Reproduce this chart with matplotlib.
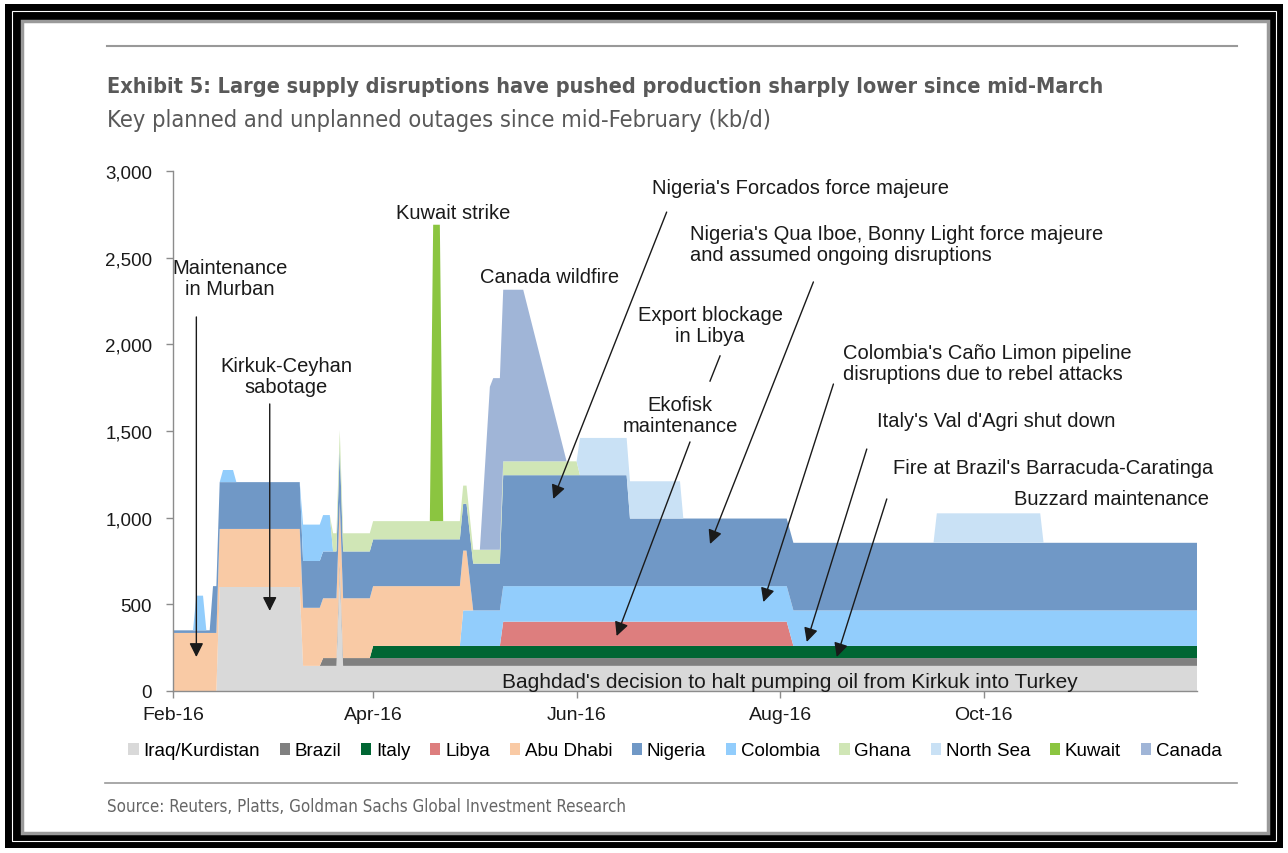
import numpy as np
import matplotlib
matplotlib.use('Agg')
import matplotlib.pyplot as plt
import matplotlib.dates as mdates
from matplotlib.patches import Patch, Rectangle
from matplotlib.lines import Line2D

# breakpoints of the outage series (kb/d), shared by every layer
dates = ['2016-02-01', '2016-02-07', '2016-02-08', '2016-02-10', '2016-02-11',
         '2016-02-12', '2016-02-13', '2016-02-14', '2016-02-15', '2016-02-16',
         '2016-02-19', '2016-02-20', '2016-03-10', '2016-03-11', '2016-03-16',
         '2016-03-17', '2016-03-19', '2016-03-20', '2016-03-21', '2016-03-22',
         '2016-03-23', '2016-03-31', '2016-04-01', '2016-04-18', '2016-04-19',
         '2016-04-21', '2016-04-22', '2016-04-27', '2016-04-28', '2016-04-29',
         '2016-05-01', '2016-05-03', '2016-05-06', '2016-05-07', '2016-05-09',
         '2016-05-10', '2016-05-16', '2016-05-29', '2016-06-01', '2016-06-02',
         '2016-06-16', '2016-06-17', '2016-07-02', '2016-07-03', '2016-08-03',
         '2016-08-05', '2016-09-16', '2016-09-17', '2016-10-18', '2016-10-19',
         '2016-12-04']

iraq = [0, 0, 0, 0, 0, 0, 0, 0, 600, 600,
        600, 600, 600, 145, 145, 145, 145, 145, 145, 700,
        145, 145, 145, 145, 145, 145, 145, 145, 145, 145,
        145, 145, 145, 145, 145, 145, 145, 145, 145, 145,
        145, 145, 145, 145, 145, 145, 145, 145, 145, 145,
        145]
brazil = [0, 0, 0, 0, 0, 0, 0, 0, 0, 0,
          0, 0, 0, 0, 0, 45, 45, 45, 45, 45,
          45, 45, 45, 45, 45, 45, 45, 45, 45, 45,
          45, 45, 45, 45, 45, 45, 45, 45, 45, 45,
          45, 45, 45, 45, 45, 45, 45, 45, 45, 45,
          45]
italy = [0, 0, 0, 0, 0, 0, 0, 0, 0, 0,
         0, 0, 0, 0, 0, 0, 0, 0, 0, 0,
         0, 0, 70, 70, 70, 70, 70, 70, 70, 70,
         70, 70, 70, 70, 70, 70, 70, 70, 70, 70,
         70, 70, 70, 70, 70, 70, 70, 70, 70, 70,
         70]
libya = [0, 0, 0, 0, 0, 0, 0, 0, 0, 0,
         0, 0, 0, 0, 0, 0, 0, 0, 0, 0,
         0, 0, 0, 0, 0, 0, 0, 0, 0, 0,
         0, 0, 0, 0, 0, 140, 140, 140, 140, 140,
         140, 140, 140, 140, 140, 0, 0, 0, 0, 0,
         0]
abu_dhabi = [335, 335, 335, 335, 335, 335, 335, 335, 335, 335,
             335, 335, 335, 335, 335, 345, 345, 345, 345, 345,
             345, 345, 345, 345, 345, 345, 345, 345, 345, 345,
             0, 0, 0, 0, 0, 0, 0, 0, 0, 0,
             0, 0, 0, 0, 0, 0, 0, 0, 0, 0,
             0]
nigeria = [15, 15, 15, 15, 15, 15, 270, 270, 270, 270,
           270, 270, 270, 270, 270, 270, 270, 270, 270, 310,
           270, 270, 270, 270, 270, 270, 270, 270, 270, 270,
           270, 270, 270, 270, 270, 640, 640, 640, 640, 640,
           640, 390, 390, 390, 390, 390, 390, 390, 390, 390,
           390]
colombia = [0, 0, 200, 200, 0, 0, 0, 0, 0, 70,
            70, 0, 0, 210, 210, 210, 210, 0, 0, 0,
            0, 0, 0, 0, 0, 0, 0, 0, 205, 205,
            205, 205, 205, 205, 205, 205, 205, 205, 205, 205,
            205, 205, 205, 205, 205, 205, 205, 205, 205, 205,
            205]
ghana = [0, 0, 0, 0, 0, 0, 0, 0, 0, 0,
         0, 0, 0, 0, 0, 0, 0, 105, 105, 105,
         105, 105, 105, 105, 105, 105, 105, 105, 105, 105,
         80, 80, 80, 80, 80, 80, 80, 80, 80, 0,
         0, 0, 0, 0, 0, 0, 0, 0, 0, 0,
         0]
north_sea = [0, 0, 0, 0, 0, 0, 0, 0, 0, 0,
             0, 0, 0, 0, 0, 0, 0, 0, 0, 0,
             0, 0, 0, 0, 0, 0, 0, 0, 0, 0,
             0, 0, 0, 0, 0, 0, 0, 0, 0, 215,
             215, 215, 215, 0, 0, 0, 0, 170, 170, 0,
             0]
kuwait = [0, 0, 0, 0, 0, 0, 0, 0, 0, 0,
          0, 0, 0, 0, 0, 0, 0, 0, 0, 0,
          0, 0, 0, 0, 1710, 1710, 0, 0, 0, 0,
          0, 0, 0, 0, 0, 0, 0, 0, 0, 0,
          0, 0, 0, 0, 0, 0, 0, 0, 0, 0,
          0]
canada = [0, 0, 0, 0, 0, 0, 0, 0, 0, 0,
          0, 0, 0, 0, 0, 0, 0, 0, 0, 0,
          0, 0, 0, 0, 0, 0, 0, 0, 0, 0,
          0, 0, 940, 990, 990, 990, 990, 0, 0, 0,
          0, 0, 0, 0, 0, 0, 0, 0, 0, 0,
          0]

labels = ['Iraq/Kurdistan', 'Brazil', 'Italy', 'Libya', 'Abu Dhabi', 'Nigeria',
          'Colombia', 'Ghana', 'North Sea', 'Kuwait', 'Canada']
colors = ['#D9D9D9', '#808080', '#006633', '#DD7E7E', '#F9CAA5', '#7098C6',
          '#92CDFC', '#D0E6B6', '#C9E1F5', '#8BC540', '#A0B5D7']
c = dict(zip(labels, colors))

W, H = 1288, 854
txt_font = ['Liberation Sans', 'DejaVu Sans']


def dn(s):
    return mdates.date2num(np.datetime64(s))


fig = plt.figure(figsize=(W / 100, H / 100), dpi=100)

# picture frame
fig.patches.append(Rectangle((5 / W, 5 / H), 1278 / W, 844 / H, transform=fig.transFigure,
                             facecolor='black', edgecolor='none', zorder=-5))
fig.patches.append(Rectangle((12 / W, 12 / H), 1264 / W, 830 / H, transform=fig.transFigure,
                             facecolor='none', edgecolor='white', lw=0.8, zorder=-4))
fig.patches.append(Rectangle((22 / W, 20 / H), 1246 / W, 812 / H, transform=fig.transFigure,
                             facecolor='white', edgecolor='#9a9a9a', lw=2.5, zorder=-3))

ax = fig.add_axes([173 / W, 1 - 692 / H, (1197 - 173) / W, (692 - 172) / H])
x = np.array([dn(d) for d in dates])

# Colombia sits on top of Nigeria in Feb-Mar, underneath it from late April
col = np.array(colombia)
col_low = np.where(x >= dn('2016-04-01'), col, 0)
col_high = np.where(x < dn('2016-04-01'), col, 0)

ax.stackplot(x, iraq, brazil, italy, libya, col_low, abu_dhabi, nigeria, col_high,
             ghana, north_sea, kuwait, canada,
             colors=[c['Iraq/Kurdistan'], c['Brazil'], c['Italy'], c['Libya'], c['Colombia'],
                     c['Abu Dhabi'], c['Nigeria'], c['Colombia'], c['Ghana'], c['North Sea'],
                     c['Kuwait'], c['Canada']],
             linewidth=0)

ax.set_xlim(dn('2016-02-01'), dn('2016-12-04'))
ax.set_ylim(0, 3000)
ax.set_yticks([0, 500, 1000, 1500, 2000, 2500, 3000])
ax.yaxis.set_major_formatter(plt.FuncFormatter(lambda v, p: f'{v:,.0f}'))
ax.xaxis.set_major_locator(mdates.MonthLocator(bymonth=[2, 4, 6, 8, 10]))
ax.xaxis.set_major_formatter(mdates.DateFormatter('%b-%y'))
for s in ['top', 'right']:
    ax.spines[s].set_visible(False)
for s in ['left', 'bottom']:
    ax.spines[s].set_color('#8c8c8c')
    ax.spines[s].set_linewidth(1)
ax.tick_params(axis='both', colors='#8c8c8c', labelcolor='#1a1a1a', labelsize=13.5,
               length=5, width=1, direction='out')
ax.tick_params(axis='y', pad=10)
ax.tick_params(axis='x', pad=6, labelsize=14)
for lab in ax.get_xticklabels() + ax.get_yticklabels():
    lab.set_family(txt_font)

# annotations
fs = 14.5
akw = dict(arrowstyle='-|>,head_length=0.6,head_width=0.3', color='#1a1a1a', lw=1,
           mutation_scale=14, shrinkA=0, shrinkB=0)


def note(text, xy, ha='center', size=fs):
    ax.text(dn(xy[0]), xy[1], text, ha=ha, va='center', fontsize=size, color='#1a1a1a',
            family=txt_font, linespacing=1.15)


def arrow(tail, tip):
    ax.annotate('', xy=(dn(tip[0]), tip[1]), xytext=(dn(tail[0]), tail[1]), arrowprops=akw)


note('Maintenance\nin Murban', ('2016-02-18', 2383))
arrow(('2016-02-08', 2158), ('2016-02-08', 196))
note('Kirkuk-Ceyhan\nsabotage', ('2016-03-06', 1817))
arrow(('2016-03-01', 1656), ('2016-03-01', 462))
note('Kuwait strike', ('2016-04-25', 2763))
note('Canada wildfire', ('2016-05-24', 2394))
note("Nigeria's Forcados force majeure", ('2016-08-07', 2905))
arrow(('2016-06-28', 2763), ('2016-05-25', 1108))
note("Nigeria's Qua Iboe, Bonny Light force majeure\nand assumed ongoing disruptions",
     ('2016-07-05', 2579), ha='left')
arrow(('2016-08-11', 2360), ('2016-07-11', 848))
note('Export blockage\nin Libya', ('2016-07-11', 2112))
ax.plot([dn('2016-07-14'), dn('2016-07-11')], [1933, 1788], color='#1a1a1a', lw=1)
note('Ekofisk\nmaintenance', ('2016-07-02', 1592))
arrow(('2016-07-05', 1437), ('2016-06-13', 317))
note("Colombia's Caño Limon pipeline\ndisruptions due to rebel attacks",
     ('2016-08-20', 1892), ha='left')
arrow(('2016-08-17', 1771), ('2016-07-27', 513))
note("Italy's Val d'Agri shut down", ('2016-08-30', 1563), ha='left')
arrow(('2016-08-27', 1396), ('2016-08-09', 283))
note("Fire at Brazil's Barracuda-Caratinga", ('2016-09-04', 1292), ha='left')
arrow(('2016-09-02', 1108), ('2016-08-18', 196))
note('Buzzard maintenance', ('2016-10-10', 1113), ha='left')
note("Baghdad's decision to halt pumping oil from Kirkuk into Turkey", ('2016-08-04', 52),
     size=15)

# legend
handles = [Patch(facecolor=col_, edgecolor='none') for col_ in colors]
fig.legend(handles, labels, loc='center', bbox_to_anchor=(675 / W, 1 - 752 / H), ncol=11,
           frameon=False, handlelength=0.55, handleheight=0.55, handletextpad=0.25,
           columnspacing=1.05, prop={'family': txt_font, 'size': 13.5})

# header and footer
fig.lines.append(Line2D([107 / W, 1237 / W], [1 - 47 / H, 1 - 47 / H], transform=fig.transFigure,
                        color='#999999', lw=1.5))
fig.lines.append(Line2D([105 / W, 1237 / W], [1 - 784 / H, 1 - 784 / H], transform=fig.transFigure,
                        color='#999999', lw=1.2))
title = fig.text(107 / W, 1 - 87 / H,
                 'Exhibit 5: Large supply disruptions have pushed production sharply lower since mid-March',
                 fontsize=17, fontweight='bold', fontstretch='condensed', color='#595959',
                 family='DejaVu Sans', va='center')
subtitle = fig.text(107 / W, 1 - 121 / H, 'Key planned and unplanned outages since mid-February (kb/d)',
                    fontsize=15, fontstretch='condensed', color='#595959',
                    family='DejaVu Sans', va='center')
source = fig.text(107 / W, 1 - 807 / H, 'Source: Reuters, Platts, Goldman Sachs Global Investment Research',
                  fontsize=12, fontstretch='condensed', color='#666666',
                  family='DejaVu Sans', va='center')

# squeeze the header texts to the widths they take in the exhibit
fig.canvas.draw()
renderer = fig.canvas.get_renderer()
for t, target in [(title, 1000), (subtitle, 670), (source, 518)]:
    w = t.get_window_extent(renderer=renderer).width
    t.set_fontsize(t.get_fontsize() * target / w)

fig.savefig('out.png', dpi=100)
